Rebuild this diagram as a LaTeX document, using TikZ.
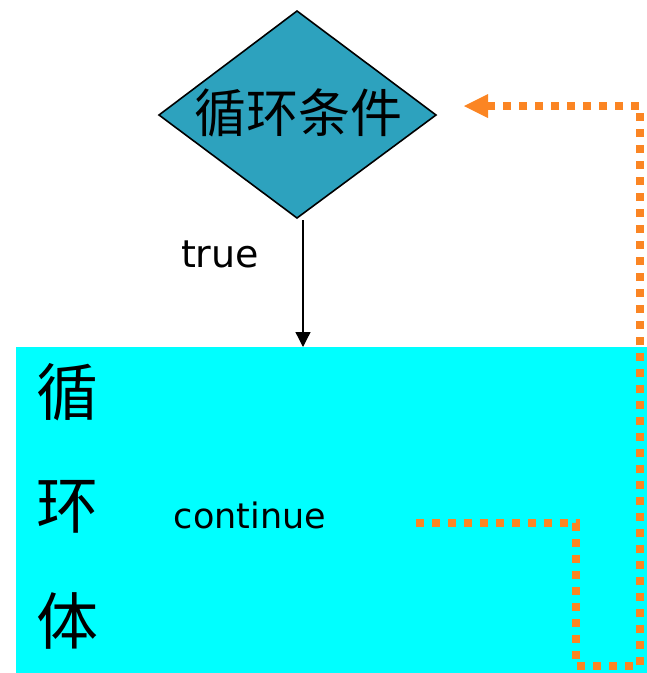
\documentclass[tikz,border=0pt]{standalone}
\usepackage{fontspec}
\setmainfont{DejaVu Sans}
\newfontfamily\cjk{Noto Sans CJK SC}
\usetikzlibrary{shapes.geometric,arrows.meta}
\definecolor{diafill}{HTML}{2DA2BE}
\definecolor{bodycyan}{HTML}{00FFFF}
\definecolor{dotorange}{HTML}{FB8523}
\tikzset{
  px/.style={x=1pt,y=-1pt},
  dotline/.style={draw=dotorange,line width=8pt,dash pattern=on 8pt off 8pt},
  bigcjk/.style={font=\cjk\fontsize{62}{62}\selectfont},
}
\begin{document}
\begin{tikzpicture}[px]
\useasboundingbox (0,0) rectangle (647,673);
% loop body
\fill[bodycyan] (16,347) rectangle (647,673);
% diamond
\draw[fill=diafill,line width=1.6pt] (297,11) coordinate (dt) -- (436,115) coordinate (dr) -- (297,218) coordinate (db) -- (159,115) coordinate (dl) -- cycle;
\node (cond) at (298,113) {\cjk\fontsize{52}{52}\selectfont 循环条件};
% arrow
\coordinate (a1) at (303,220);
\coordinate (a2) at (303,347);
\draw[-{Triangle[length=15pt,width=15pt]},line width=1.3pt] (a1) -- (a2);
\node[anchor=base] (tr) at (220,267) {\fontsize{38}{38}\selectfont true};
% body text
\node[bigcjk] (c1) at (67,392) {循};
\node[bigcjk] (c2) at (67,507) {环};
\node[bigcjk] (c3) at (67,621) {体};
\node[anchor=base] (cont) at (250,528) {\fontsize{35}{35}\selectfont continue};
% dotted return path
\coordinate (p0) at (416,523);
\coordinate (p1) at (576,523);
\coordinate (p2) at (576,666);
\coordinate (p3) at (640,666);
\coordinate (p4) at (640,106);
\coordinate (p5) at (488,106);
\coordinate (tip) at (464,106);
\draw[dotline] (p0) -- (p1) -- (p2) -- (p3) -- (p4) -- (p5);
\fill[dotorange] (tip) -- (488,94) -- (488,118) -- cycle;
\end{tikzpicture}
\end{document}
